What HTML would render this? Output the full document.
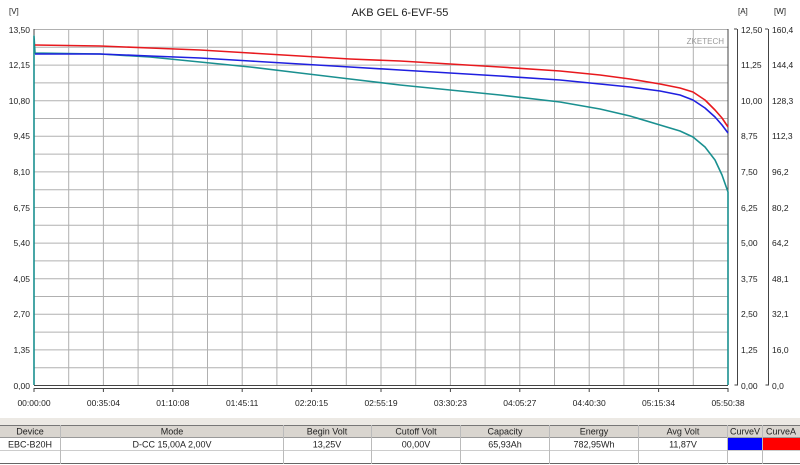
<!DOCTYPE html>
<html><head><meta charset="utf-8"><style>
html,body{margin:0;padding:0;background:#fff;width:800px;height:465px;overflow:hidden;font-family:"Liberation Sans",sans-serif}
svg text{font-family:"Liberation Sans",sans-serif;fill:#222}
</style></head><body>
<svg width="800" height="465" viewBox="0 0 800 465" xmlns="http://www.w3.org/2000/svg">
<rect width="800" height="465" fill="#fff"/>
<text x="400" y="16" font-size="11" text-anchor="middle">AKB GEL  6-EVF-55</text>
<g stroke="#b0b0b0" stroke-width="1">
<line x1="34" y1="29.5" x2="728" y2="29.5"/><line x1="34" y1="47.3" x2="728" y2="47.3"/><line x1="34" y1="65.1" x2="728" y2="65.1"/><line x1="34" y1="82.9" x2="728" y2="82.9"/><line x1="34" y1="100.7" x2="728" y2="100.7"/><line x1="34" y1="118.5" x2="728" y2="118.5"/><line x1="34" y1="136.3" x2="728" y2="136.3"/><line x1="34" y1="154.1" x2="728" y2="154.1"/><line x1="34" y1="171.9" x2="728" y2="171.9"/><line x1="34" y1="189.7" x2="728" y2="189.7"/><line x1="34" y1="207.5" x2="728" y2="207.5"/><line x1="34" y1="225.3" x2="728" y2="225.3"/><line x1="34" y1="243.1" x2="728" y2="243.1"/><line x1="34" y1="260.9" x2="728" y2="260.9"/><line x1="34" y1="278.7" x2="728" y2="278.7"/><line x1="34" y1="296.5" x2="728" y2="296.5"/><line x1="34" y1="314.3" x2="728" y2="314.3"/><line x1="34" y1="332.1" x2="728" y2="332.1"/><line x1="34" y1="349.9" x2="728" y2="349.9"/><line x1="34" y1="367.7" x2="728" y2="367.7"/>
<line x1="68.7" y1="29" x2="68.7" y2="385"/><line x1="103.4" y1="29" x2="103.4" y2="385"/><line x1="138.1" y1="29" x2="138.1" y2="385"/><line x1="172.8" y1="29" x2="172.8" y2="385"/><line x1="207.5" y1="29" x2="207.5" y2="385"/><line x1="242.2" y1="29" x2="242.2" y2="385"/><line x1="276.9" y1="29" x2="276.9" y2="385"/><line x1="311.6" y1="29" x2="311.6" y2="385"/><line x1="346.3" y1="29" x2="346.3" y2="385"/><line x1="381" y1="29" x2="381" y2="385"/><line x1="415.7" y1="29" x2="415.7" y2="385"/><line x1="450.4" y1="29" x2="450.4" y2="385"/><line x1="485.1" y1="29" x2="485.1" y2="385"/><line x1="519.8" y1="29" x2="519.8" y2="385"/><line x1="554.5" y1="29" x2="554.5" y2="385"/><line x1="589.2" y1="29" x2="589.2" y2="385"/><line x1="623.9" y1="29" x2="623.9" y2="385"/><line x1="658.6" y1="29" x2="658.6" y2="385"/><line x1="693.3" y1="29" x2="693.3" y2="385"/>
</g>
<g stroke="#444" stroke-width="1" fill="none">
<line x1="34" y1="29" x2="34" y2="385"/><line x1="728" y1="29" x2="728" y2="385"/>
<line x1="34" y1="385.5" x2="728" y2="385.5"/>
<line x1="34" y1="388.5" x2="728" y2="388.5"/>
<path d="M737 29h-3M737.5 29v356h-3M768 29h-3M768.5 29v356h-3"/>
</g>
<g font-size="8.5" text-anchor="end">
<text x="30" y="33">13,50</text><text x="30" y="68">12,15</text><text x="30" y="104">10,80</text><text x="30" y="139">9,45</text><text x="30" y="175">8,10</text><text x="30" y="211">6,75</text><text x="30" y="246">5,40</text><text x="30" y="282">4,05</text><text x="30" y="317">2,70</text><text x="30" y="353">1,35</text><text x="30" y="389">0,00</text>
</g>
<text x="9" y="14" font-size="8">[V]</text><text x="738" y="14" font-size="8">[A]</text><text x="774" y="14" font-size="8">[W]</text>
<g font-size="8.5">
<text x="741" y="33">12,50</text><text x="741" y="68">11,25</text><text x="741" y="104">10,00</text><text x="741" y="139">8,75</text><text x="741" y="175">7,50</text><text x="741" y="211">6,25</text><text x="741" y="246">5,00</text><text x="741" y="282">3,75</text><text x="741" y="317">2,50</text><text x="741" y="353">1,25</text><text x="741" y="389">0,00</text>
<text x="772" y="33">160,4</text><text x="772" y="68">144,4</text><text x="772" y="104">128,3</text><text x="772" y="139">112,3</text><text x="772" y="175">96,2</text><text x="772" y="211">80,2</text><text x="772" y="246">64,2</text><text x="772" y="282">48,1</text><text x="772" y="317">32,1</text><text x="772" y="353">16,0</text><text x="772" y="389">0,0</text>
</g>
<text x="724" y="44" font-size="8" text-anchor="end" style="fill:#999">ZKETECH</text>
<g stroke="#444"><line x1="34" y1="388" x2="34" y2="392"/><line x1="103.4" y1="388" x2="103.4" y2="392"/><line x1="172.8" y1="388" x2="172.8" y2="392"/><line x1="242.2" y1="388" x2="242.2" y2="392"/><line x1="311.6" y1="388" x2="311.6" y2="392"/><line x1="381" y1="388" x2="381" y2="392"/><line x1="450.4" y1="388" x2="450.4" y2="392"/><line x1="519.8" y1="388" x2="519.8" y2="392"/><line x1="589.2" y1="388" x2="589.2" y2="392"/><line x1="658.6" y1="388" x2="658.6" y2="392"/><line x1="728" y1="388" x2="728" y2="392"/></g>
<g font-size="8.5" text-anchor="middle">
<text x="34" y="406">00:00:00</text><text x="103.4" y="406">00:35:04</text><text x="172.8" y="406">01:10:08</text><text x="242.2" y="406">01:45:11</text><text x="311.6" y="406">02:20:15</text><text x="381" y="406">02:55:19</text><text x="450.4" y="406">03:30:23</text><text x="519.8" y="406">04:05:27</text><text x="589.2" y="406">04:40:30</text><text x="658.6" y="406">05:15:34</text><text x="728" y="406">05:50:38</text>
</g>
<g fill="none" stroke-width="1.6" stroke-linejoin="round">
<path stroke="#1a9090" d="M34 385 L34 36 L35 53 L100 54 L150 57 L200 62 L250 67 L300 73 L350 79 L400 85 L450 90 L500 95 L560 102 L600 109 L630 116 L660 125 L680 131 L693 137 L705 147 L715 160 L722 175 L728 192 L728 385"/>
<path stroke="#1f1fe0" d="M35 54 L100 54 L150 56 L200 58 L250 61 L300 64 L350 67 L400 70 L450 73 L500 76 L560 80 L600 84 L630 87 L660 91 L680 95 L693 100 L705 108 L715 117 L722 125 L728 133"/>
<path stroke="#e8191e" d="M35 45 L100 46 L150 48 L200 50 L250 53 L300 56 L350 59 L400 61 L450 64 L500 67 L560 71 L600 75 L630 79 L660 84 L680 88 L693 92 L705 100 L715 110 L722 118 L728 127"/>
</g>
<rect x="0" y="418" width="800" height="8" fill="#ece9e4"/>
<rect x="0" y="425" width="800" height="12" fill="#d9d5cf"/>
<line x1="0" y1="425.5" x2="800" y2="425.5" stroke="#777"/>
<line x1="0" y1="437.5" x2="800" y2="437.5" stroke="#999"/>
<line x1="0" y1="450.5" x2="800" y2="450.5" stroke="#ccc"/>
<line x1="0" y1="463.5" x2="800" y2="463.5" stroke="#666"/>
<g stroke="#bbb"><line x1="60.5" y1="425" x2="60.5" y2="464"/><line x1="283.5" y1="425" x2="283.5" y2="464"/><line x1="371.5" y1="425" x2="371.5" y2="464"/><line x1="460.5" y1="425" x2="460.5" y2="464"/><line x1="549.5" y1="425" x2="549.5" y2="464"/><line x1="638.5" y1="425" x2="638.5" y2="464"/><line x1="727.5" y1="425" x2="727.5" y2="464"/><line x1="762.5" y1="425" x2="762.5" y2="464"/></g>
<rect x="728" y="438" width="34" height="12" fill="#0000ff"/>
<rect x="763" y="438" width="37" height="12" fill="#ff0000"/>
<g font-size="9" text-anchor="middle">
<text x="30" y="434.5">Device</text><text x="172" y="434.5">Mode</text><text x="327" y="434.5">Begin Volt</text><text x="416" y="434.5">Cutoff Volt</text><text x="505" y="434.5">Capacity</text><text x="594" y="434.5">Energy</text><text x="683" y="434.5">Avg Volt</text><text x="745" y="434.5">CurveV</text><text x="781" y="434.5">CurveA</text>
<text x="30" y="447.5">EBC-B20H</text><text x="172" y="447.5">D-CC  15,00A  2,00V</text><text x="327" y="447.5">13,25V</text><text x="416" y="447.5">00,00V</text><text x="505" y="447.5">65,93Ah</text><text x="594" y="447.5">782,95Wh</text><text x="683" y="447.5">11,87V</text>
</g>
</svg>
</body></html>
